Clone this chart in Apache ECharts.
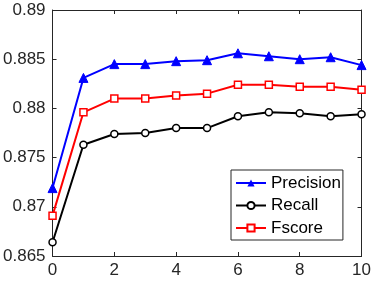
<!DOCTYPE html>
<html><head><meta charset="utf-8">
<script src="https://cdn.jsdelivr.net/npm/echarts@6/dist/echarts.min.js"></script>
<style>html,body{margin:0;padding:0;background:#fff}#c{width:374px;height:285px}</style>
</head><body><div id="c"></div>
<script>
var xValues = [0,1,2,3,4,5,6,7,8,9,10];
var precision = [0.8719,0.8831,0.8845,0.8845,0.8848,0.8849,0.8856,0.8853,0.8850,0.8852,0.8844];
var recall = [0.8664,0.8763,0.8774,0.8775,0.8780,0.8780,0.8792,0.8796,0.8795,0.8792,0.8794];
var fscore = [0.8691,0.8796,0.8810,0.8810,0.8813,0.8815,0.8824,0.8824,0.8822,0.8822,0.8819];
var seriesNames = ['Precision','Recall','Fscore'];

function pairs(arr){ return xValues.map(function(x,i){ return [x, arr[i]]; }); }
var axisColor = '#262626';
var font = 'Liberation Sans, Arial, sans-serif';
var chart = echarts.init(document.getElementById('c'));
function xa(pos, show){
  return {type:'value', position:pos, min:0, max:10, interval:2,
    axisLine:{show:true, onZero:false, lineStyle:{color:axisColor,width:1}},
    axisTick:{show:true, inside:true, length:4, lineStyle:{color:axisColor}},
    axisLabel:{show:show, color:axisColor, fontSize:17, fontFamily:font, margin:6},
    splitLine:{show:false}};
}
function ya(pos, show){
  return {type:'value', position:pos, min:0.865, max:0.89, interval:0.005,
    axisLine:{show:true, onZero:false, lineStyle:{color:axisColor,width:1}},
    axisTick:{show:true, inside:true, length:4, lineStyle:{color:axisColor}},
    axisLabel:{show:show, color:axisColor, fontSize:17, fontFamily:font, margin:7,
      formatter:function(v){ return parseFloat(v.toFixed(3)).toString(); }},
    splitLine:{show:false}};
}
chart.setOption({
  animation:false,
  grid:{left:50, right:11, top:10, bottom:29},
  xAxis:[xa('bottom',true), xa('top',false)],
  yAxis:[ya('left',true), ya('right',false)],
  legend:{orient:'vertical', left:231, top:170, data:seriesNames,
    backgroundColor:'#fff', borderColor:axisColor, borderWidth:1,
    padding:[3,2,2,4], itemGap:2.5, itemWidth:30, itemHeight:9,
    textStyle:{fontSize:17, fontFamily:font, color:'#000', lineHeight:20}},
  series:[
    {name:'Precision', type:'line', data:pairs(precision), color:'#0000ff',
     symbol:'triangle', symbolSize:9, lineStyle:{width:2, color:'#0000ff'},
     itemStyle:{color:'#0000ff', borderColor:'#0000ff'}},
    {name:'Recall', type:'line', data:pairs(recall), color:'#000000',
     symbol:'circle', symbolSize:7, lineStyle:{width:2, color:'#000000'},
     itemStyle:{color:'#ffffff', borderColor:'#000', borderWidth:1.5}},
    {name:'Fscore', type:'line', data:pairs(fscore), color:'#ff0000',
     symbol:'rect', symbolSize:7, lineStyle:{width:2, color:'#ff0000'},
     itemStyle:{color:'#ffffff', borderColor:'#ff0000', borderWidth:1.5}}
  ]
});
</script></body></html>
